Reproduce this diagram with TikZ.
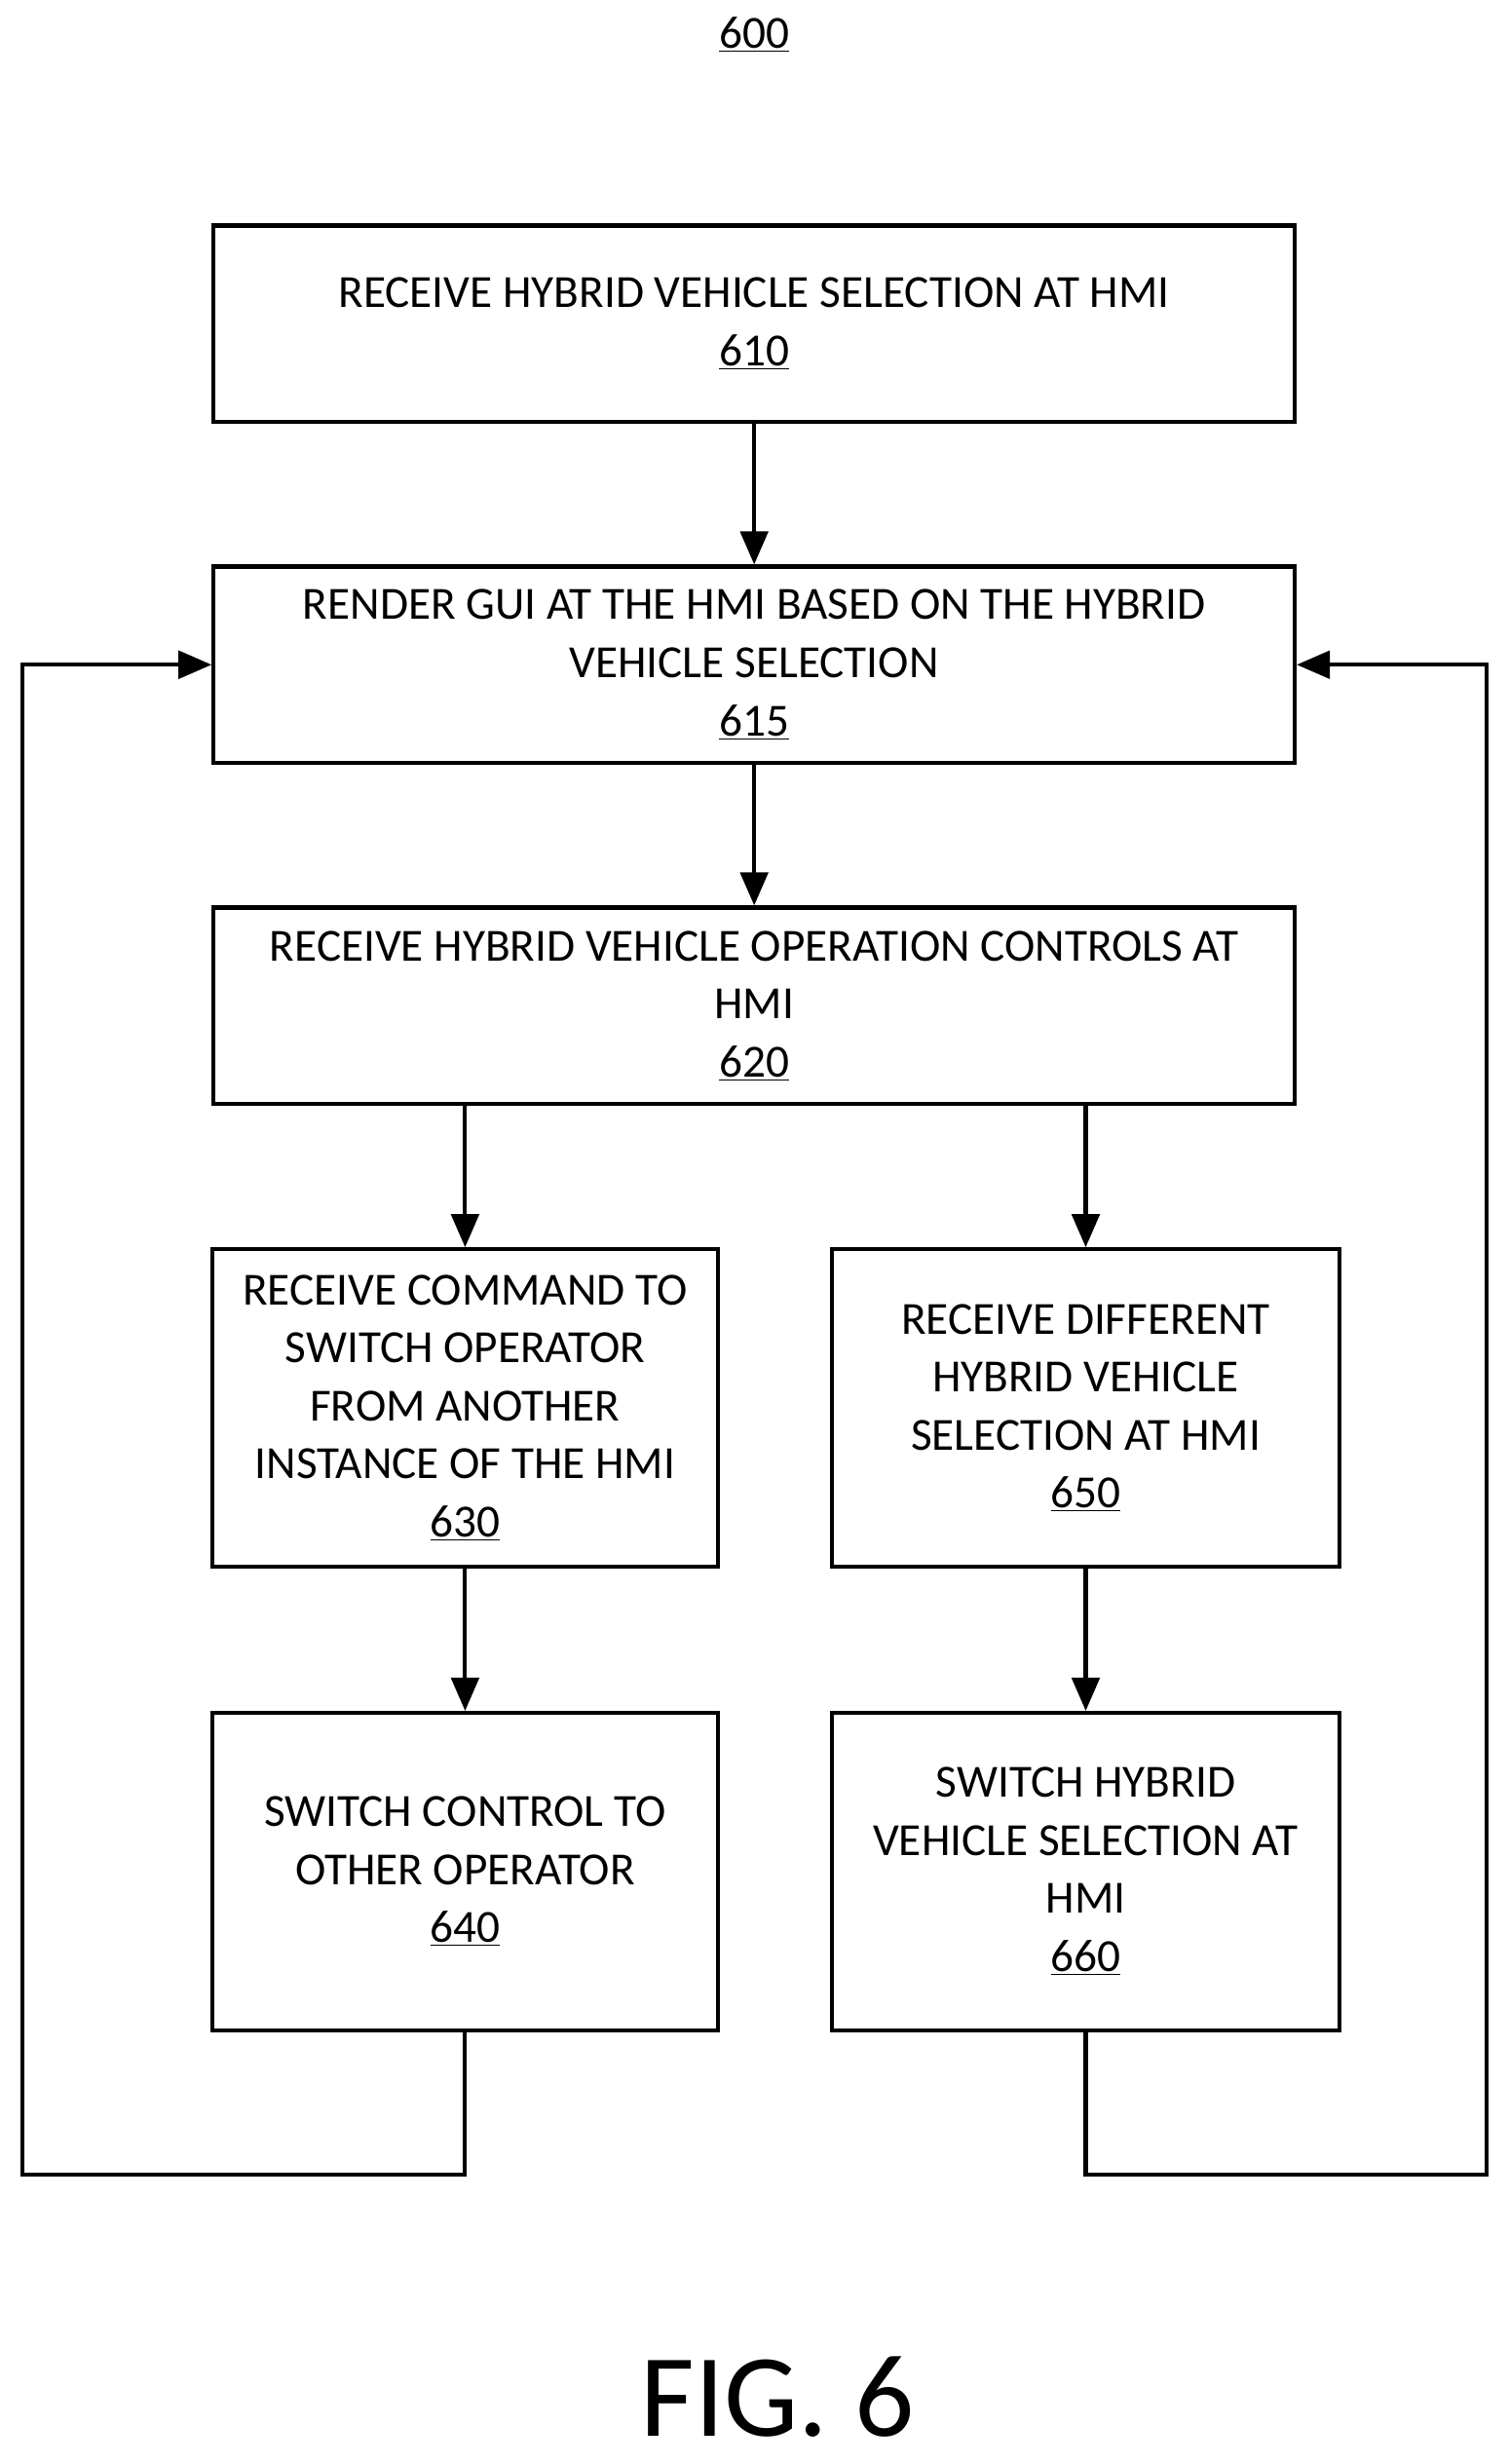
\documentclass[tikz,border=0pt]{standalone}
\usepackage{fontspec}
\setmainfont{Carlito}
\usetikzlibrary{arrows.meta,positioning}
\tikzset{
  stage/.style = {draw, line width=2.2pt, align=center, inner sep=2pt,
                 font=\fontsize{25}{31.5}\selectfont},
  wide/.style = {stage, minimum width=20.64cm, minimum height=3.75cm},
  narrow/.style = {stage, minimum width=9.66cm, minimum height=6.06cm},
  flow/.style = {-{Triangle[length=18pt,width=15pt]}, line width=2.2pt}
}
\begin{document}
\begin{tikzpicture}[x=0.03cm,y=-0.03cm]
\useasboundingbox (0,0) rectangle (960,1568);

\node[font=\fontsize{25}{30}\selectfont] (title) at (480,22) {\underline{600}};

% main column
\node[wide] (s610) at (480,206) {RECEIVE HYBRID VEHICLE SELECTION AT HMI\\\underline{610}};
\node[wide] (s615) at (480,423) {RENDER GUI AT THE HMI BASED ON THE HYBRID\\VEHICLE SELECTION\\\underline{615}};
\node[wide] (s620) at (480,640) {RECEIVE HYBRID VEHICLE OPERATION CONTROLS AT\\HMI\\\underline{620}};

% two branches
\node[narrow] (s630) at (296,896) {RECEIVE COMMAND TO\\SWITCH OPERATOR\\FROM ANOTHER\\INSTANCE OF THE HMI\\\underline{630}};
\node[narrow] (s640) at (296,1191) {SWITCH CONTROL TO\\OTHER OPERATOR\\\underline{640}};
\node[narrow, minimum width=9.69cm] (s650) at (691,896) {RECEIVE DIFFERENT\\HYBRID VEHICLE\\SELECTION AT HMI\\\underline{650}};
\node[narrow, minimum width=9.69cm] (s660) at (691,1191) {SWITCH HYBRID\\VEHICLE SELECTION AT\\HMI\\\underline{660}};

\coordinate (l1) at (296,1384);
\coordinate (l2) at (14,1384);
\coordinate (l3) at (14,423);
\coordinate (r1) at (691,1384);
\coordinate (r2) at (946,1384);
\coordinate (r3) at (946,423);

\draw[flow] (s610) -- (s615);
\draw[flow] (s615) -- (s620);
\draw[flow] (s620.south -| s630) -- (s630);
\draw[flow] (s620.south -| s650) -- (s650);
\draw[flow] (s630) -- (s640);
\draw[flow] (s650) -- (s660);

% loops back to the GUI step
\draw[flow] (s640.south) -- (l1) -- (l2) -- (l3) -- (s615.west);
\draw[flow] (s660.south) -- (r1) -- (r2) -- (r3) -- (s615.east);

\node[font=\fontsize{64}{68}\selectfont] (fig) at (495,1525) {FIG. 6};
\end{tikzpicture}
\end{document}
